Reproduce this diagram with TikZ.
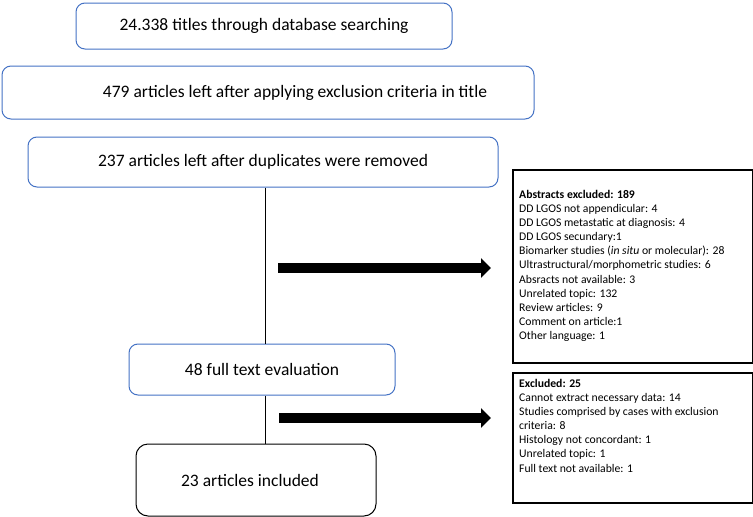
\documentclass[tikz,border=0pt]{standalone}
\usepackage{fontspec}
\setmainfont{Carlito}
\usetikzlibrary{arrows.meta}
\definecolor{boxblue}{RGB}{68,114,196}
\tikzset{
  mainbox/.style={draw=boxblue, line width=1pt, rounded corners=9pt, font=\fontsize{17.5}{21}\selectfont, inner sep=0pt, anchor=center},
  blackbox/.style={mainbox, draw=black},
  sidebox/.style={draw=black, line width=2pt, inner sep=0pt, anchor=north west},
  sidetext/.style={font=\fontsize{11.7}{14.1}\selectfont, align=left, anchor=north west, inner sep=0pt},
  conn/.style={draw=black, line width=1.4pt},
  blockarrow/.style={line width=10pt, -{Triangle[length=10pt,width=19pt]}}
}
\begin{document}
\begin{tikzpicture}[x=1pt,y=-1pt]
\useasboundingbox (0,0) rectangle (753,517);
\node[mainbox, minimum width=376pt, minimum height=46pt] (b1) at (264,26) {24.338 titles through database searching};
\node[mainbox, minimum width=532pt, minimum height=53pt] (b2) at (268,92.5) {\hspace*{54pt}479 articles left after applying exclusion criteria in title};
\node[mainbox, minimum width=470pt, minimum height=50pt] (b3) at (263,162) {237 articles left after duplicates were removed};
\node[mainbox, minimum width=266pt, minimum height=51pt] (b4) at (262,369.5) {48 full text evaluation};
\node[blackbox, rounded corners=12pt, minimum width=240pt, minimum height=72pt] (b5) at (256,480) {23 articles included\hspace*{12pt}};
\coordinate (lx) at (265.5,0);
\draw[conn] (b3.south -| lx) -- (b4.north -| lx);
\draw[conn] (b4.south -| lx) -- (b5.north -| lx);
\coordinate (a1s) at (278,268);
\coordinate (a1e) at (491,268);
\coordinate (a2s) at (279,418);
\coordinate (a2e) at (491,418);
\draw[blockarrow] (a1s) -- (a1e);
\draw[blockarrow] (a2s) -- (a2e);
\node[sidebox, minimum width=240pt, minimum height=193pt] (r1) at (512,169) {};
\node[sidebox, minimum width=240pt, minimum height=130pt] (r2) at (512,372) {};
\node[sidetext] (t1) at (519,190) {\textbf{Abstracts excluded: 189}\\
DD LGOS not appendicular: 4\\
DD LGOS metastatic at diagnosis: 4\\
DD LGOS secundary:1\\
Biomarker studies (\textit{in situ} or molecular): 28\\
Ultrastructural/morphometric studies: 6\\
Absracts not available: 3\\
Unrelated topic: 132\\
Review articles: 9\\
Comment on article:1\\
Other language: 1};
\node[sidetext] (t2) at (519,379) {\textbf{Excluded: 25}\\
Cannot extract necessary data: 14\\
Studies comprised by cases with exclusion\\
criteria: 8\\
Histology not concordant: 1\\
Unrelated topic: 1\\
Full text not available: 1};
\end{tikzpicture}
\end{document}
